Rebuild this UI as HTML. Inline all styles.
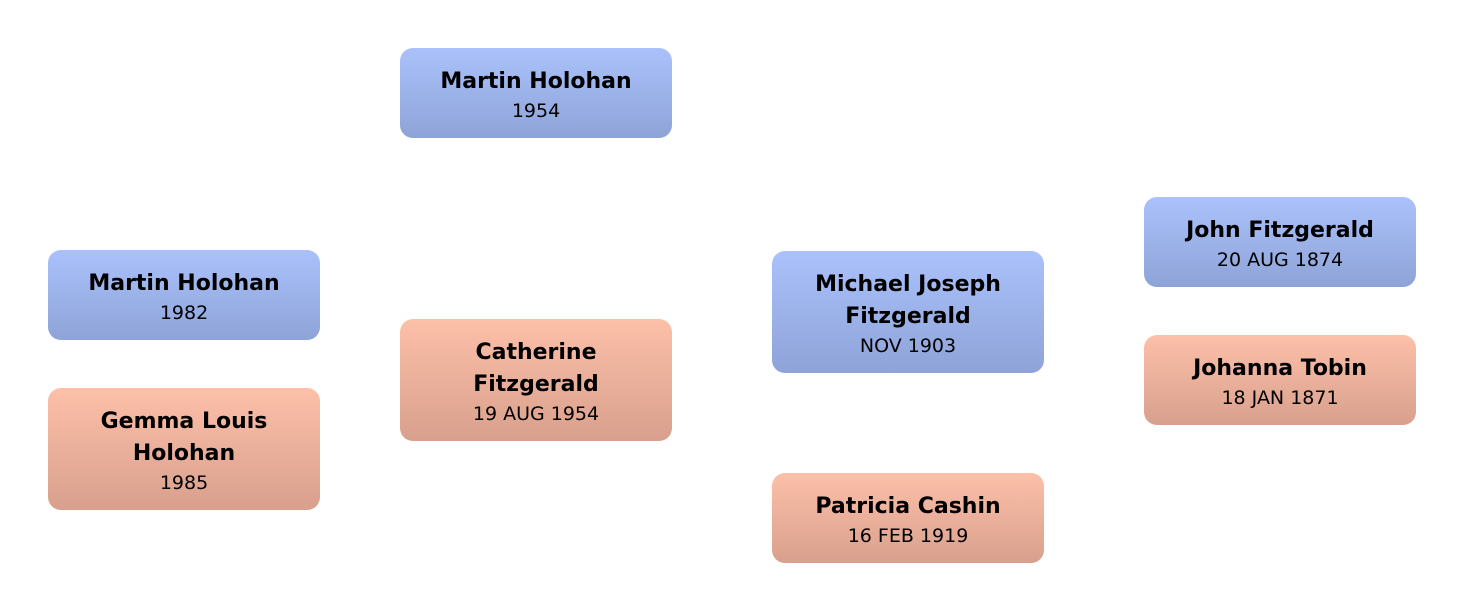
<!DOCTYPE html>
<html><head><meta charset="utf-8"><style>
body{margin:0;width:1464px;height:611px;background:#fff;position:relative;overflow:hidden;font-family:"DejaVu Sans","Liberation Sans",sans-serif;}
.b{position:absolute;width:272px;border-radius:13px;display:flex;flex-direction:column;justify-content:center;align-items:center;text-align:center;color:#000;box-sizing:border-box;padding-top:3px;}
.m{background:linear-gradient(#aac1fb,#8ea4d8);}
.f{background:linear-gradient(#fdc0a9,#d8a08d);}
.n{font-weight:bold;font-size:22px;line-height:32px;}
.d{font-size:19px;line-height:26px;}
</style></head><body>
<div class="b m" style="left:400px;top:48px;height:90px"><div class="n">Martin Holohan</div><div class="d">1954</div></div>
<div class="b m" style="left:48px;top:250px;height:90px"><div class="n">Martin Holohan</div><div class="d">1982</div></div>
<div class="b f" style="left:48px;top:388px;height:122px"><div class="n">Gemma Louis<br>Holohan</div><div class="d">1985</div></div>
<div class="b f" style="left:400px;top:319px;height:122px"><div class="n">Catherine<br>Fitzgerald</div><div class="d">19 AUG 1954</div></div>
<div class="b m" style="left:772px;top:251px;height:122px"><div class="n">Michael Joseph<br>Fitzgerald</div><div class="d">NOV 1903</div></div>
<div class="b f" style="left:772px;top:473px;height:90px"><div class="n">Patricia Cashin</div><div class="d">16 FEB 1919</div></div>
<div class="b m" style="left:1144px;top:197px;height:90px"><div class="n">John Fitzgerald</div><div class="d">20 AUG 1874</div></div>
<div class="b f" style="left:1144px;top:335px;height:90px"><div class="n">Johanna Tobin</div><div class="d">18 JAN 1871</div></div>
</body></html>
